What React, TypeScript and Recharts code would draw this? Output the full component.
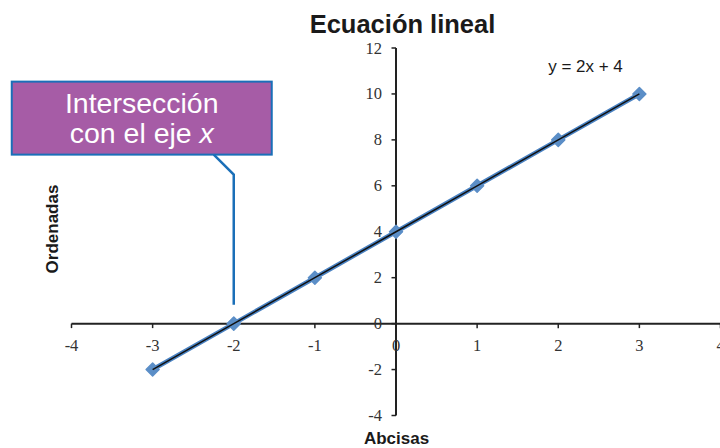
import React from 'react';
import { ScatterChart, Scatter, XAxis, YAxis, ReferenceLine, ReferenceDot } from 'recharts';

const xValues = [-3, -2, -1, 0, 1, 2, 3];
const yValues = [-2, 0, 2, 4, 6, 8, 10];
const xTicks = [-4, -3, -2, -1, 0, 1, 2, 3, 4];
const yTicks = [-4, -2, 0, 2, 4, 6, 8, 10, 12];
const title = 'Ecuación lineal';
const xTitle = 'Abcisas';
const yTitle = 'Ordenadas';
const equationLabel = 'y = 2x + 4';
const calloutPoint = { x: -2, y: 0 };

const points = xValues.map((x, i) => ({ x, y: yValues[i] }));

const AXIS = '#222222';
const TICK_FONT = '"Liberation Serif", "DejaVu Serif", serif';
const SANS = '"Liberation Sans", Arial, sans-serif';

const Diamond = (p: any) => {
  const { cx, cy } = p;
  if (cx == null || cy == null) return <g />;
  const r = 6.5;
  return (
    <polygon
      points={`${cx},${cy - r} ${cx + r},${cy} ${cx},${cy + r} ${cx - r},${cy}`}
      fill="#5b8ec7"
      stroke="#5b8ec7"
      strokeWidth={1.5}
      strokeLinejoin="round"
    />
  );
};

const NoShape = () => <g />;

const XTickMark = (label: number) => (p: any) => {
  const { cx, cy } = p;
  return (
    <g>
      <line x1={cx} y1={cy} x2={cx} y2={cy + 4.5} stroke={AXIS} strokeWidth={1.5} />
      <text x={cx} y={cy + 27} textAnchor="middle" fontFamily={TICK_FONT} fontSize={16.5} fill="#333">
        {label}
      </text>
    </g>
  );
};

const YTickMark = (label: number) => (p: any) => {
  const { cx, cy } = p;
  return (
    <g>
      <line x1={cx - 4.5} y1={cy} x2={cx} y2={cy} stroke={AXIS} strokeWidth={1.5} />
      <text x={cx - 14} y={cy + 5.5} textAnchor="end" fontFamily={TICK_FONT} fontSize={16.5} fill="#333">
        {label}
      </text>
    </g>
  );
};

const Callout = (p: any) => {
  const { cx, cy } = p;
  const bx = cx - 222;
  const by = cy - 242;
  return (
    <g>
      <polyline
        points={`${cx},${cy - 19} ${cx},${cy - 149} ${cx - 20},${cy - 169}`}
        fill="none"
        stroke="#1a6fb8"
        strokeWidth={2.5}
      />
      <rect x={bx} y={by} width={260} height={73} fill="#a65ca6" stroke="#1a6fb8" strokeWidth={2} />
      <text x={cx - 92} y={cy - 211} textAnchor="middle" fontFamily={SANS} fontSize={28.5} fill="#ffffff">
        Intersección
      </text>
      <text x={cx - 92} y={cy - 181} textAnchor="middle" fontFamily={SANS} fontSize={28.5} fill="#ffffff">
        con el eje <tspan fontStyle="italic">x</tspan>
      </text>
    </g>
  );
};

export default function App() {
  return (
    <div style={{ position: 'absolute', left: 0, top: 0, width: 720, height: 448, overflow: 'hidden', background: '#fff' }}>
      <ScatterChart
        width={740}
        height={448}
        margin={{ top: 48, right: 19.5, bottom: 32.5, left: 71.5 }}
      >
        <XAxis type="number" dataKey="x" domain={[-4, 4]} ticks={xTicks} hide allowDataOverflow />
        <YAxis type="number" dataKey="y" domain={[-4, 12]} ticks={yTicks} hide allowDataOverflow />
        <ReferenceLine y={0} stroke={AXIS} strokeWidth={2} />
        <ReferenceLine x={0} stroke={AXIS} strokeWidth={2} />
        {xTicks.map((t) => (
          <ReferenceDot key={'xt' + t} x={t} y={0} r={0} shape={XTickMark(t)} ifOverflow="visible" />
        ))}
        {yTicks.map((t) => (
          <ReferenceDot key={'yt' + t} x={0} y={t} r={0} shape={YTickMark(t)} ifOverflow="visible" />
        ))}
        <Scatter
          data={points}
          isAnimationActive={false}
          fill="#5b8ec7"
          line={{ stroke: '#4a82c2', strokeWidth: 4.5 }}
          shape={Diamond}
        />
        <Scatter
          data={points}
          isAnimationActive={false}
          fill="#111111"
          line={{ stroke: '#111111', strokeWidth: 1.5 }}
          shape={NoShape}
        />
        <ReferenceDot x={calloutPoint.x} y={calloutPoint.y} r={0} shape={Callout} ifOverflow="visible" />
      </ScatterChart>
      <svg width={720} height={448} style={{ position: 'absolute', left: 0, top: 0, pointerEvents: 'none' }}>
        <text x={402.5} y={33} textAnchor="middle" fontFamily={SANS} fontWeight="bold" fontSize={25.5} fill="#1a1a1a">
          {title}
        </text>
        <text x={585.5} y={72} textAnchor="middle" fontFamily={SANS} fontSize={17} fill="#1a1a1a">
          {equationLabel}
        </text>
        <text x={396.5} y={444} textAnchor="middle" fontFamily={SANS} fontWeight="bold" fontSize={17} fill="#1a1a1a">
          {xTitle}
        </text>
        <text
          x={58}
          y={229}
          textAnchor="middle"
          fontFamily={SANS}
          fontWeight="bold"
          fontSize={17}
          fill="#1a1a1a"
          transform="rotate(-90 58 229)"
        >
          {yTitle}
        </text>
      </svg>
    </div>
  );
}
